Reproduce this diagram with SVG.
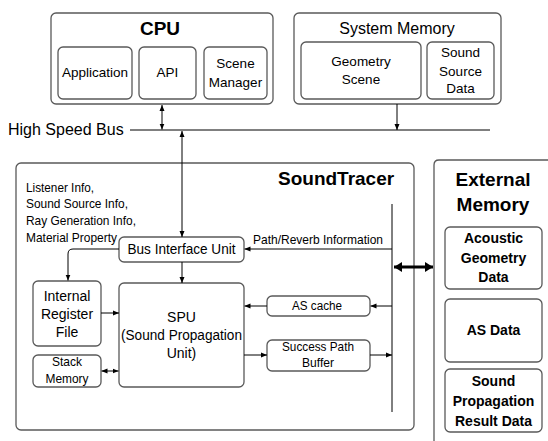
<svg xmlns="http://www.w3.org/2000/svg" width="548" height="441" viewBox="0 0 548 441">
<defs>
<marker id="ah" viewBox="0 0 6 6" refX="6" refY="3" markerWidth="6" markerHeight="6" markerUnits="userSpaceOnUse" orient="auto-start-reverse"><path d="M0,0.5 L6,3 L0,5.5 z" fill="#000"/></marker>
<marker id="ahb" viewBox="0 0 8 10" refX="8" refY="5" markerWidth="8" markerHeight="10" markerUnits="userSpaceOnUse" orient="auto-start-reverse"><path d="M0,0 L8,5 L0,10 z" fill="#000"/></marker>
<style>
.box{fill:#fff;stroke:#595959;stroke-width:1.3}
.c{fill:none;stroke:#000;stroke-width:1}
text{font-family:"Liberation Sans",Arial,sans-serif;fill:#000}
.m{text-anchor:middle}
.b{font-weight:bold}
</style>
</defs>
<rect width="548" height="441" fill="#fff"/>

<g id="cpu">
<rect class="box" x="51" y="13" width="222" height="91" rx="5"/>
<text class="m b" x="160" y="35" font-size="19">CPU</text>
</g>
<g id="application"><rect class="box" x="58" y="47" width="74" height="52" rx="5"/><text class="m" x="95" y="77" font-size="13.5">Application</text></g>
<g id="api"><rect class="box" x="139" y="47" width="57" height="52" rx="5"/><text class="m" x="167.5" y="77" font-size="13.5">API</text></g>
<g id="scene-manager"><rect class="box" x="204" y="47" width="63" height="52" rx="5"/><text class="m" x="235.5" y="68" font-size="13.5">Scene</text><text class="m" x="235.5" y="87" font-size="13.5">Manager</text></g>

<g id="system-memory">
<rect class="box" x="294" y="13" width="207" height="91" rx="5"/>
<text class="m" x="397" y="34" font-size="16">System Memory</text>
</g>
<g id="geometry-scene"><rect class="box" x="301" y="42" width="120" height="57" rx="5"/><text class="m" x="361" y="66" font-size="13.5">Geometry</text><text class="m" x="361" y="84" font-size="13.5">Scene</text></g>
<g id="sound-source-data"><rect class="box" x="427" y="42" width="67" height="57" rx="5"/><text class="m" x="460.5" y="57" font-size="13.5">Sound</text><text class="m" x="460.5" y="75.5" font-size="13.5">Source</text><text class="m" x="460.5" y="93" font-size="13.5">Data</text></g>

<g id="high-speed-bus-label"><text x="8" y="135" font-size="16">High Speed Bus</text></g>

<g id="soundtracer">
<rect class="box" x="16" y="163" width="398" height="267" rx="5"/>
<text class="b" x="278" y="185" font-size="19">SoundTracer</text>
<text x="26" y="192" font-size="13.5" textLength="68" lengthAdjust="spacingAndGlyphs">Listener Info,</text>
<text x="26" y="208" font-size="13.5" textLength="102" lengthAdjust="spacingAndGlyphs">Sound Source Info,</text>
<text x="26" y="225" font-size="13.5" textLength="110" lengthAdjust="spacingAndGlyphs">Ray Generation Info,</text>
<text x="26" y="242" font-size="13.5" textLength="91" lengthAdjust="spacingAndGlyphs">Material Property</text>
</g>

<g id="external-memory">
<path class="box" d="M434,441 L434,165 Q434,160 439,160 L560,160" fill="none"/>
<text class="m b" x="493" y="186" font-size="19">External</text>
<text class="m b" x="493" y="211" font-size="19">Memory</text>
</g>
<g id="acoustic-geometry-data"><rect class="box" x="445" y="227" width="97" height="62" rx="5"/><text class="m b" x="493.5" y="243" font-size="14">Acoustic</text><text class="m b" x="493.5" y="263" font-size="14">Geometry</text><text class="m b" x="493.5" y="282" font-size="14">Data</text></g>
<g id="as-data"><rect class="box" x="445" y="299" width="97" height="63" rx="5"/><text class="m b" x="493.5" y="335" font-size="14">AS Data</text></g>
<g id="sound-propagation-result-data"><rect class="box" x="445" y="369" width="97" height="63" rx="5"/><text class="m b" x="493.5" y="386" font-size="14">Sound</text><text class="m b" x="493.5" y="405.5" font-size="14">Propagation</text><text class="m b" x="493.5" y="426" font-size="14">Result Data</text></g>

<g id="bus-interface-unit"><rect class="box" x="119" y="237" width="125" height="25" rx="5"/><text class="m" x="181.5" y="254" font-size="14" textLength="108" lengthAdjust="spacingAndGlyphs">Bus Interface Unit</text></g>
<g id="internal-register-file"><rect class="box" x="33" y="281" width="68" height="65" rx="5"/><text class="m" x="67" y="301" font-size="14">Internal</text><text class="m" x="67" y="318.5" font-size="14">Register</text><text class="m" x="67" y="337" font-size="14">File</text></g>
<g id="stack-memory"><rect class="box" x="33" y="355" width="68" height="32" rx="5"/><text class="m" x="67" y="366" font-size="13" textLength="30" lengthAdjust="spacingAndGlyphs">Stack</text><text class="m" x="67" y="383" font-size="13" textLength="43" lengthAdjust="spacingAndGlyphs">Memory</text></g>
<g id="spu"><rect class="box" x="119" y="283" width="125" height="104" rx="5"/><text class="m" x="181.5" y="322" font-size="14">SPU</text><text class="m" x="181.5" y="339.5" font-size="14" textLength="121" lengthAdjust="spacingAndGlyphs">(Sound Propagation</text><text class="m" x="181.5" y="358" font-size="14">Unit)</text></g>
<g id="as-cache"><rect class="box" x="267" y="296" width="103" height="20" rx="5"/><text class="m" x="317" y="310" font-size="12.5" textLength="50" lengthAdjust="spacingAndGlyphs">AS cache</text></g>
<g id="success-path-buffer"><rect class="box" x="267" y="340" width="103" height="31" rx="5"/><text class="m" x="318" y="351" font-size="13" textLength="72" lengthAdjust="spacingAndGlyphs">Success Path</text><text class="m" x="318" y="367" font-size="13" textLength="32" lengthAdjust="spacingAndGlyphs">Buffer</text></g>

<g id="connectors">
<line class="c" x1="130" y1="130" x2="490" y2="130"/>
<line class="c" x1="162" y1="105" x2="162" y2="129.5" marker-start="url(#ah)" marker-end="url(#ah)"/>
<line class="c" x1="397" y1="104" x2="397" y2="130" marker-end="url(#ah)"/>
<line class="c" x1="182" y1="131" x2="182" y2="237" marker-start="url(#ah)" marker-end="url(#ah)"/>
<line class="c" x1="392" y1="204" x2="392" y2="412"/>
<line x1="394" y1="267" x2="433" y2="267" stroke="#000" stroke-width="3" marker-start="url(#ahb)" marker-end="url(#ahb)"/>
<line class="c" x1="392" y1="249" x2="244.5" y2="249" marker-end="url(#ah)"/>
<text x="253" y="244" font-size="13" textLength="130" lengthAdjust="spacingAndGlyphs">Path/Reverb Information</text>
<path class="c" d="M119,249 L73,249 Q68,249 68,254 L68,280.5" marker-end="url(#ah)"/>
<line class="c" x1="182" y1="262" x2="182" y2="283" marker-end="url(#ah)"/>
<line class="c" x1="101" y1="313" x2="119" y2="313" marker-end="url(#ah)"/>
<line class="c" x1="101.5" y1="371" x2="118.5" y2="371" marker-start="url(#ah)" marker-end="url(#ah)"/>
<line class="c" x1="392" y1="306" x2="370.5" y2="306" marker-end="url(#ah)"/>
<line class="c" x1="267" y1="306" x2="244.5" y2="306" marker-end="url(#ah)"/>
<line class="c" x1="244" y1="355" x2="267" y2="355" marker-end="url(#ah)"/>
<line class="c" x1="370" y1="355" x2="392" y2="355" marker-end="url(#ah)"/>
</g>
</svg>
